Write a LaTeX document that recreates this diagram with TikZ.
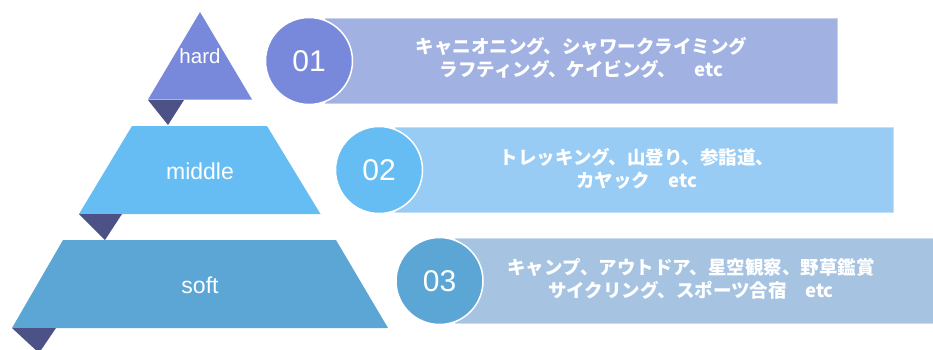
\documentclass[tikz,border=0pt]{standalone}
\usepackage{fontspec}
\setmainfont{Liberation Sans}
\newfontfamily\jp{Noto Sans CJK JP}
\definecolor{hardc}{RGB}{120,137,220}
\definecolor{midc}{RGB}{102,189,243}
\definecolor{softc}{RGB}{92,166,214}
\definecolor{rowa}{RGB}{161,177,225}
\definecolor{rowb}{RGB}{152,204,245}
\definecolor{rowc}{RGB}{166,196,226}
\definecolor{darkc}{RGB}{76,82,134}
\tikzset{
  levellabel/.style={text=white, font=\fontsize{23}{26}\selectfont, inner sep=0pt},
  rowbox/.style={rectangle, minimum height=85pt, inner sep=0pt, draw=#1!60!white, line width=0.6pt, fill=#1},
  numcircle/.style={circle, minimum size=87pt, inner sep=0pt, fill=#1, draw=white, line width=1.5pt,
    text=white, font=\fontsize{30}{32}\selectfont},
  rowtext/.style={text=white, align=center, inner sep=0pt, font=\jp\bfseries\fontsize{18.5}{23.5}\selectfont},
  pointer/.style={fill=darkc}
}
\begin{document}
\begin{tikzpicture}[x=1pt,y=-1pt]
\useasboundingbox (0,0) rectangle (933,349);
\clip (0,0) rectangle (933,349);
% pyramid
\fill[hardc] (200,12) -- (252,99.5) -- (148,99.5) -- cycle;
\fill[pointer] (148,100) -- (184,100) -- (168,125) -- cycle;
\fill[midc] (132,126) -- (267,126) -- (320.5,214) -- (79,214) -- cycle;
\fill[pointer] (79,214) -- (122,214) -- (105,240) -- cycle;
\fill[softc] (63,240) -- (336,240) -- (388,328) -- (12,328) -- cycle;
\fill[pointer] (12,328) -- (56,328) -- (39,353) -- cycle;
\node[levellabel, font=\fontsize{20.5}{24}\selectfont] (lh) at (200,56) {hard};
\node[levellabel] (lm) at (200,171) {middle};
\node[levellabel] (ls) at (200,285) {soft};
% rows
\node[rowbox=rowa, minimum width=512pt] (r1) at (581,60.5) {};
\node[rowbox=rowb, minimum width=498pt] (r2) at (644,170) {};
\node[rowbox=rowc, minimum width=478pt] (r3) at (694,280.5) {};
\node[numcircle=hardc] (c1) at (309,61) {01};
\node[numcircle=midc] (c2) at (379,170) {02};
\node[numcircle=softc] (c3) at (439.5,281) {03};
\node[rowtext] (t1) at (581.5,58) {キャニオニング、シャワークライミング\\ラフティング、ケイビング、　etc};
\node[rowtext] (t2) at (637,169) {トレッキング、山登り、参詣道、\\カヤック　etc};
\node[rowtext] (t3) at (691,279) {キャンプ、アウトドア、星空観察、野草鑑賞\\サイクリング、スポーツ合宿　etc};
\end{tikzpicture}
\end{document}
